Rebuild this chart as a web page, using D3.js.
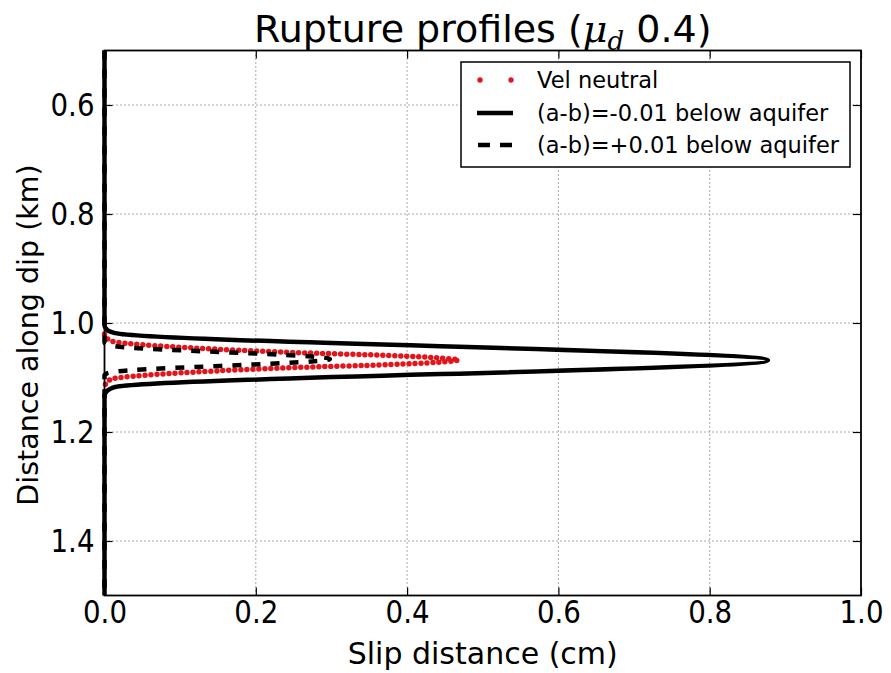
<!DOCTYPE html>
<html>
<head>
<meta charset="utf-8">
<script src="https://cdn.jsdelivr.net/npm/d3@7/dist/d3.min.js"></script>
<style>
  html, body { margin: 0; padding: 0; background: #fff; }
  svg { display: block; }
  text { font-family: "DejaVu Sans", sans-serif; fill: #000; }
</style>
</head>
<body>
<svg id="chart" width="891" height="673"></svg>
<script>
// ---------------- data ----------------
const xTicks = [0.0, 0.2, 0.4, 0.6, 0.8, 1.0];
const yTicks = [0.6, 0.8, 1.0, 1.2, 1.4];
const xDomain = [0, 1.0];
const yDomain = [0.5, 1.5];

// Vel neutral (red dots) – rupture zone; zero slip elsewhere lies under the solid line
const neutralDepth = [1.020, 1.027, 1.031, 1.0341, 1.046, 1.0542, 1.0597, 1.064, 1.068, 1.072, 1.0763, 1.0818, 1.090, 1.1019, 1.105, 1.109, 1.116];
const neutralSlip  = [0,     0.003, 0.006, 0.012,  0.12,  0.25,   0.378,  0.44,  0.468, 0.44,  0.378,  0.25,   0.12,  0.012,  0.006, 0.003, 0];

// (a-b) = -0.01 below aquifer (solid black)
const solidDepth = [0.5, 1.004, 1.010, 1.015, 1.0185, 1.0685, 1.1175, 1.122, 1.127, 1.133, 1.5];
const solidSlip  = [0,   0,     0.002, 0.006, 0.014,  0.877,  0.014,  0.006, 0.002, 0,     0];

// (a-b) = +0.01 below aquifer (dashed black)
const dashedDepth = [0.5, 1.036, 1.040, 1.0425, 1.066, 1.0895, 1.092, 1.096, 1.5];
const dashedSlip  = [0,   0,     0.004, 0.014,  0.298, 0.014,  0.004, 0,     0];

const legendLabels = ["Vel neutral", "(a-b)=-0.01 below aquifer", "(a-b)=+0.01 below aquifer"];

// ---------------- layout ----------------
const svg = d3.select("#chart");
const L = 104.5, R = 861, T = 50.5, B = 595.5;

const x = d3.scaleLinear().domain(xDomain).range([L, R]);
const y = d3.scaleLinear().domain(yDomain).range([T, B]);

// grid
const grid = svg.append("g");
grid.selectAll("line.gx").data(xTicks.filter(d => d > 0 && d < 1)).join("line")
  .attr("x1", d => x(d)).attr("x2", d => x(d)).attr("y1", T).attr("y2", B)
  .attr("stroke", "#555").attr("stroke-width", 1).attr("stroke-dasharray", "1 3");
grid.selectAll("line.gy").data(yTicks).join("line")
  .attr("y1", d => y(d)).attr("y2", d => y(d)).attr("x1", L).attr("x2", R)
  .attr("stroke", "#555").attr("stroke-width", 1).attr("stroke-dasharray", "1 3");

// series
const line = d3.line().x(d => x(d[1])).y(d => y(d[0])).curve(d3.curveMonotoneY);
const plot = svg.append("g");

plot.append("path")
  .attr("d", line(d3.zip(neutralDepth, neutralSlip)))
  .attr("fill", "none").attr("stroke", "#e3151c").attr("stroke-width", 5.5)
  .attr("stroke-linecap", "round").attr("stroke-dasharray", "0 6");

plot.append("path")
  .attr("d", line(d3.zip(solidDepth, solidSlip)))
  .attr("fill", "none").attr("stroke", "#000").attr("stroke-width", 4.5)
  .attr("stroke-linejoin", "round");

plot.append("path")
  .attr("d", line(d3.zip(dashedDepth, dashedSlip)))
  .attr("fill", "none").attr("stroke", "#000").attr("stroke-width", 4.5)
  .attr("stroke-dasharray", "9 10");

// axes (ticks inward)
const fmt = d3.format(".1f");
const xAxis = svg.append("g").attr("transform", `translate(0,${B})`)
  .call(d3.axisBottom(x).tickValues(xTicks).tickFormat(fmt).tickSize(-8).tickPadding(5));
const xAxisTop = svg.append("g").attr("transform", `translate(0,${T})`)
  .call(d3.axisTop(x).tickValues(xTicks).tickFormat("").tickSize(-8));
const yAxis = svg.append("g").attr("transform", `translate(${L},0)`)
  .call(d3.axisLeft(y).tickValues(yTicks).tickFormat(fmt).tickSize(-8).tickPadding(10));
const yAxisR = svg.append("g").attr("transform", `translate(${R},0)`)
  .call(d3.axisRight(y).tickValues(yTicks).tickFormat("").tickSize(-8));

[xAxis, xAxisTop, yAxis, yAxisR].forEach(g => {
  g.select(".domain").remove();
  g.selectAll(".tick line").attr("stroke", "#000").attr("stroke-width", 1.2);
  g.selectAll("text").attr("font-family", "DejaVu Sans").attr("font-size", 32).attr("fill", "#000")
    .attr("textLength", 44).attr("lengthAdjust", "spacingAndGlyphs");
});

// spines
svg.append("rect").attr("x", L).attr("y", T).attr("width", R - L).attr("height", B - T)
  .attr("fill", "none").attr("stroke", "#000").attr("stroke-width", 1.8);

// title
const title = svg.append("text").attr("x", (L + R) / 2).attr("y", 42)
  .attr("text-anchor", "middle").attr("font-size", 38);
title.append("tspan").text("Rupture profiles (");
title.append("tspan").attr("font-family", "DejaVu Serif").attr("font-style", "italic").text("\u03bc");
title.append("tspan").attr("font-family", "DejaVu Serif").attr("font-style", "italic")
  .attr("font-size", 26).attr("dy", 8).text("d");
title.append("tspan").attr("dy", -8).text("\u00a00.4)");

// axis labels
svg.append("text").attr("x", (L + R) / 2).attr("y", 664).attr("text-anchor", "middle")
  .attr("font-size", 30).text("Slip distance (cm)");
svg.append("text").attr("transform", `translate(38,335) rotate(-90)`)
  .attr("text-anchor", "middle").attr("font-size", 28.5).text("Distance along dip (km)");

// legend
const lg = svg.append("g");
lg.append("rect").attr("x", 461).attr("y", 62).attr("width", 389).attr("height", 105)
  .attr("fill", "#fff").attr("stroke", "#000").attr("stroke-width", 1.5);
const rowY = [80, 113, 145];
lg.selectAll("text.lab").data(legendLabels).join("text")
  .attr("x", 537).attr("y", (d, i) => rowY[i] + 8).attr("font-size", 22.5).text(d => d);
lg.selectAll("circle").data([480, 511]).join("circle")
  .attr("cx", d => d).attr("cy", rowY[0]).attr("r", 2.7).attr("fill", "#e3151c");
lg.append("line").attr("x1", 477).attr("x2", 513).attr("y1", rowY[1]).attr("y2", rowY[1])
  .attr("stroke", "#000").attr("stroke-width", 4.5);
lg.append("line").attr("x1", 478).attr("x2", 512).attr("y1", rowY[2]).attr("y2", rowY[2])
  .attr("stroke", "#000").attr("stroke-width", 4.5).attr("stroke-dasharray", "12 10");
</script>
</body>
</html>
